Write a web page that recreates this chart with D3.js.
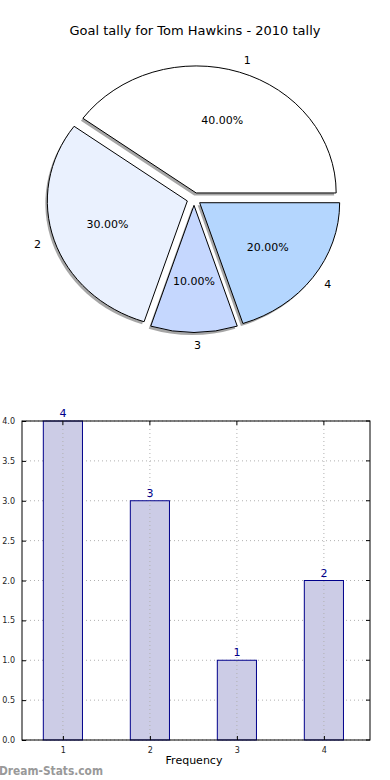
<!DOCTYPE html>
<html><head><meta charset="utf-8">
<script src="https://cdn.jsdelivr.net/npm/d3@7"></script>
<style>body{margin:0;background:#fff}svg{display:block;font-family:"DejaVu Sans",sans-serif}</style>
</head><body><svg id="c" width="390" height="780"></svg>
<script>
const categories = ["1","2","3","4"];
const values = [4,3,1,2];
const pieColors = ["#ffffff","#eaf1fe","#c5d7fe","#b4d6fe"];
const yTicks = [0,0.5,1,1.5,2,2.5,3,3.5,4];
const title = "Goal tally for Tom Hawkins - 2010 tally";

const svg = d3.select("#c");
svg.append("rect").attr("width",390).attr("height",780).attr("fill","#fff");

svg.append("text").attr("x",195).attr("y",35).attr("text-anchor","middle")
  .attr("font-size",13).attr("fill","#000").text(title);

// Pie (elliptical as in source)
const cx = 194, cy = 199, rx = 140, ry = 127, explode = 0.05;
const total = d3.sum(values);
const pie = d3.pie().sort(null).startAngle(Math.PI/2).endAngle(Math.PI/2 - 2*Math.PI);
const arcs = pie(values);
const arc = d3.arc().innerRadius(0).outerRadius(1);
const g = svg.append("g");
arcs.forEach((a,i)=>{
  const m = (a.startAngle + a.endAngle)/2;
  const ux = Math.sin(m), uy = -Math.cos(m);
  const ox = cx + explode*rx*ux, oy = cy + explode*ry*uy;
  g.append("path").attr("d",arc(a))
    .attr("transform",`translate(${ox-2},${oy+2.5}) scale(${rx},${ry})`)
    .attr("fill","#808080").attr("opacity",0.7);
});
arcs.forEach((a,i)=>{
  const m = (a.startAngle + a.endAngle)/2;
  const ux = Math.sin(m), uy = -Math.cos(m);
  const ox = cx + explode*rx*ux, oy = cy + explode*ry*uy;
  g.append("path").attr("d",arc(a))
    .attr("transform",`translate(${ox},${oy}) scale(${rx},${ry})`)
    .attr("fill",pieColors[i]).attr("stroke","#000").attr("stroke-width",1)
    .attr("vector-effect","non-scaling-stroke");
});
arcs.forEach((a,i)=>{
  const m = (a.startAngle + a.endAngle)/2;
  const ux = Math.sin(m), uy = -Math.cos(m);
  const ox = cx + explode*rx*ux, oy = cy + explode*ry*uy;
  g.append("text").attr("x",ox+1.1*rx*ux).attr("y",oy+1.1*ry*uy)
    .attr("text-anchor", ux >= -1e-9 ? "start" : "end")
    .attr("dominant-baseline","central").attr("font-size",11).text(categories[i]);
  g.append("text").attr("x",ox+0.6*rx*ux).attr("y",oy+0.6*ry*uy)
    .attr("text-anchor","middle").attr("dominant-baseline","central")
    .attr("font-size",11).text((values[i]/total*100).toFixed(2)+"%");
});

// Bar chart
const L=22, R=370, T=421, B=740;
const x = d3.scaleLinear().domain([0.53,4.53]).range([L,R]);
const y = d3.scaleLinear().domain([0,4]).range([B,T]);
const bw = 0.45;
const bg = svg.append("g");
bg.selectAll(".gy").data(yTicks).join("line")
  .attr("x1",L).attr("x2",R).attr("y1",d=>y(d)).attr("y2",d=>y(d))
  .attr("stroke","#b0b0b0").attr("stroke-dasharray","1,3");
bg.selectAll(".bar").data(values).join("rect")
  .attr("x",(d,i)=>x(i+1-bw/2)).attr("width",x(1+bw)-x(1))
  .attr("y",d=>y(d)).attr("height",d=>y(0)-y(d))
  .attr("fill","#ccccE6").attr("stroke","#00008b").attr("stroke-width",1);
bg.selectAll(".gx").data(categories).join("line")
  .attr("x1",(d,i)=>x(i+1)).attr("x2",(d,i)=>x(i+1)).attr("y1",T).attr("y2",B)
  .attr("stroke","#b0b0b0").attr("stroke-dasharray","1,3");
bg.append("rect").attr("x",L).attr("y",T).attr("width",R-L).attr("height",B-T)
  .attr("fill","none").attr("stroke","#000").attr("stroke-width",1);
const ya = d3.axisLeft(y).tickValues(yTicks).tickFormat(d3.format(".1f")).tickSize(-4).tickPadding(7);
const yg = bg.append("g").attr("transform",`translate(${L},0)`).call(ya);
const xa = d3.axisBottom(x).tickValues([1,2,3,4]).tickFormat(d=>categories[d-1]).tickSize(-4).tickPadding(7);
const xg = bg.append("g").attr("transform",`translate(0,${B})`).call(xa);
[yg,xg].forEach(s=>{
  s.select(".domain").remove();
  s.selectAll("text").attr("font-size",8).attr("font-family","DejaVu Sans").attr("fill","#222");
  s.selectAll("line").attr("stroke","#000");
});
bg.selectAll(".rt").data(yTicks).join("line")
  .attr("x1",R).attr("x2",R-4).attr("y1",d=>y(d)).attr("y2",d=>y(d)).attr("stroke","#000");
bg.selectAll(".tt").data([1,2,3,4]).join("line")
  .attr("x1",d=>x(d)).attr("x2",d=>x(d)).attr("y1",T).attr("y2",T+4).attr("stroke","#000");
bg.selectAll(".vl").data(values).join("text")
  .attr("x",(d,i)=>x(i+1)).attr("y",d=>y(d)-4).attr("text-anchor","middle")
  .attr("font-size",11).attr("fill","#00008b").text(d=>d);
svg.append("text").attr("x",194).attr("y",764).attr("text-anchor","middle")
  .attr("font-size",11).text("Frequency");
svg.append("text").attr("x",-1).attr("y",775).attr("font-size",12.5).attr("font-weight","600")
  .attr("textLength",104).attr("lengthAdjust","spacingAndGlyphs")
  .attr("fill","#999").text("Dream-Stats.com");
</script></body></html>
